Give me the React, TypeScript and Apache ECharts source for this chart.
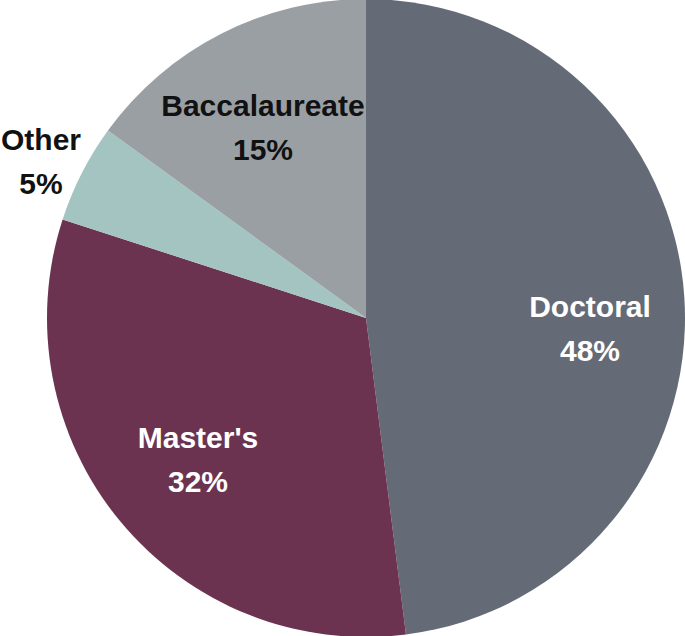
import React, { useEffect, useRef } from "react";
import * as echarts from "echarts";

const categories = ["Doctoral", "Master's", "Other", "Baccalaureate"];
const values = [48, 32, 5, 15];
const colors = ["#646a76", "#6b3350", "#a3c4c0", "#9a9fa4"];
const labelColors = ["#ffffff", "#ffffff", "#111111", "#111111"];
// label anchor points (pixel positions of label block centers)
const labelPos: [number, number][] = [
  [590, 328],
  [198, 459],
  [41, 161],
  [263, 127],
];

export default function App() {
  const ref = useRef<HTMLDivElement>(null);
  useEffect(() => {
    document.body.style.margin = "0";
    const chart = echarts.init(ref.current!, null, { renderer: "svg" });
    chart.setOption({
      animation: false,
      backgroundColor: "#ffffff",
      series: [
        {
          type: "pie",
          center: [366, 318],
          radius: 319,
          startAngle: 90,
          clockwise: true,
          avoidLabelOverlap: false,
          labelLine: { show: false },
          label: {
            show: true,
            position: "inside",
            formatter: "{b}\n{c}%",
            fontFamily: "'Liberation Sans', Arial, sans-serif",
            fontWeight: "bold",
            fontSize: 30,
            lineHeight: 44,
            align: "center",
          },
          labelLayout: (p: any) => ({
            x: labelPos[p.dataIndex][0],
            y: labelPos[p.dataIndex][1],
            align: "center",
            verticalAlign: "middle",
          }),
          data: categories.map((c, i) => ({
            name: c,
            value: values[i],
            itemStyle: { color: colors[i] },
            label: { color: labelColors[i] },
          })),
        },
      ],
    });
    return () => chart.dispose();
  }, []);
  return <div ref={ref} style={{ width: 685, height: 636 }} />;
}
